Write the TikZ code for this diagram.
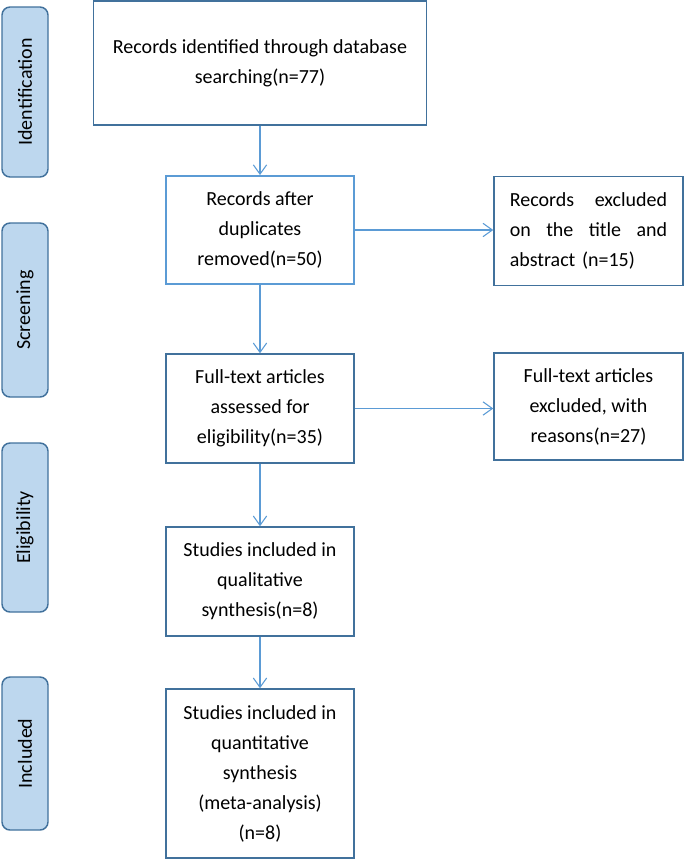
\documentclass[tikz,border=0pt]{standalone}
\usepackage{fontspec}
\setmainfont{Carlito}
\usetikzlibrary{arrows.meta}
\definecolor{boxline}{RGB}{65,113,156}
\definecolor{lightline}{RGB}{91,155,213}
\definecolor{phasefill}{RGB}{189,215,238}
\tikzset{
  flowbox/.style={draw=boxline, line width=1.1pt, align=center, inner sep=2pt,
    font=\fontsize{15}{22.5}\selectfont},
  phasebox/.style={draw=boxline, fill=phasefill, line width=1.1pt, rounded corners=6pt,
    rotate=90, minimum height=34.5pt, font=\fontsize{15}{18}\selectfont},
  flowarrow/.style={draw=lightline, line width=0.8pt, -{Straight Barb[length=7pt,width=10pt]}}
}
\begin{document}
\begin{tikzpicture}[x=0.75pt, y=-0.75pt]
    \useasboundingbox (0,0) rectangle (685,860);
    % Phases (left side)
    \node[phasebox, minimum width=127.5pt] (ident) at (25,92) {Identification};
    \node[phasebox, minimum width=130.5pt] (screen) at (25,310) {Screening};
    \node[phasebox, minimum width=126.75pt] (elig) at (25,527.5) {Eligibility};
    \node[phasebox, minimum width=114.75pt] (incl) at (25,753.5) {Included};
    
    % Main column
    \node[flowbox, minimum width=249.75pt, minimum height=93pt] (found) at (260,63)
      {Records identified through database\\searching(n=77)};
    \node[flowbox, draw=lightline, line width=1.4pt, minimum width=141pt, minimum height=81pt] (dedup) at (260,230)
      {Records after\\duplicates\\removed(n=50)};
    \node[flowbox, minimum width=141pt, minimum height=81.75pt] (full) at (260,408.5)
      {Full-text articles\\assessed for\\eligibility(n=35)};
    \node[flowbox, minimum width=141pt, minimum height=81.75pt] (quali) at (260,581.5)
      {Studies included in\\qualitative\\synthesis(n=8)};
    \node[flowbox, minimum width=141pt, minimum height=126.75pt] (quanti) at (260,773.5)
      {Studies included in\\quantitative\\synthesis\\(meta-analysis)\\(n=8)};
    
    % Exclusions (right side)
    \node[flowbox, minimum width=141.75pt, minimum height=81.75pt, text width=118pt, align=left] (excl) at (588.5,231)
      {Records \hfill excluded\\on \hfill the \hfill title \hfill and\\abstract (n=15)};
    \node[flowbox, minimum width=141.75pt, minimum height=80.25pt] (reason) at (588.5,406.5)
      {Full-text articles\\excluded, with\\reasons(n=27)};
    
    % Arrows
    \draw[flowarrow] (found.south) -- (dedup.north);
    \draw[flowarrow] (dedup.south) -- (full.north);
    \draw[flowarrow] (full.south) -- (quali.north);
    \draw[flowarrow] (quali.south) -- (quanti.north);
    \draw[flowarrow] (dedup.east) -- (dedup.east -| excl.west);
    \draw[flowarrow] (full.east) -- (full.east -| reason.west);
\end{tikzpicture}
\end{document}
